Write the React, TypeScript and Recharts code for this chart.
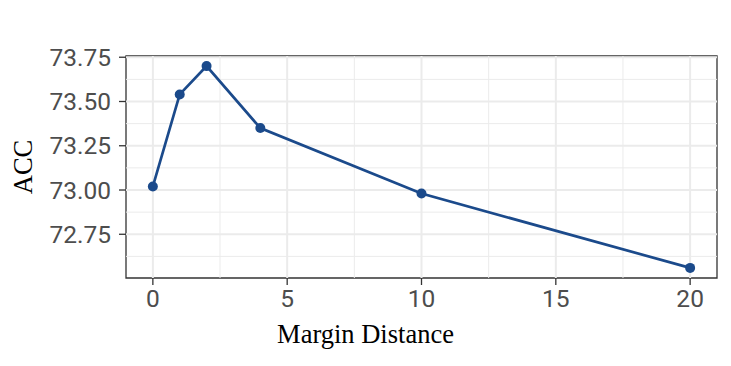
import { Label, Line, LineChart, ReferenceArea, ReferenceLine, XAxis, YAxis } from 'recharts';

const margins = [0, 1, 2, 4, 10, 20];
const accValues = [73.02, 73.54, 73.7, 73.35, 72.98, 72.56];

const xTicks = [0, 5, 10, 15, 20];
const xMinor = [2.5, 7.5, 12.5, 17.5];
const yTicks = [72.75, 73.0, 73.25, 73.5, 73.75];
const yMinor = [72.625, 72.875, 73.125, 73.375, 73.625];

const xDomain: [number, number] = [-1, 21];
const yDomain: [number, number] = [72.503, 73.757];

const data = margins.map((m, i) => ({ margin: m, acc: accValues[i] }));

const LINE_COLOR = '#1b4a8b';
const GRID = '#ebebeb';
const tickFont = { fontFamily: 'Roboto', fontSize: 24.5, fill: '#4d4d4d' };
const titleFont = { fontFamily: 'Liberation Serif', fontSize: 26.5, fill: '#000' };

export default function App() {
  return (
    <div style={{ position: 'absolute', left: 0, top: 0, width: 731, height: 366, background: '#fff' }}>
      <LineChart width={731} height={366} data={data} margin={{ top: 56, right: 14, bottom: 0, left: 0 }}>
        {xMinor.map((v) => (
          <ReferenceLine key={`xm${v}`} x={v} stroke={GRID} strokeWidth={1} />
        ))}
        {yMinor.map((v) => (
          <ReferenceLine key={`ym${v}`} y={v} stroke={GRID} strokeWidth={1} />
        ))}
        {xTicks.map((v) => (
          <ReferenceLine key={`x${v}`} x={v} stroke={GRID} strokeWidth={2} />
        ))}
        {yTicks.map((v) => (
          <ReferenceLine key={`y${v}`} y={v} stroke={GRID} strokeWidth={2} />
        ))}
        <ReferenceArea
          x1={xDomain[0]}
          x2={xDomain[1]}
          y1={yDomain[0]}
          y2={yDomain[1]}
          fill="none"
          fillOpacity={0}
          stroke="#333333"
          strokeWidth={1.3}
        />
        <XAxis
          dataKey="margin"
          type="number"
          domain={xDomain}
          ticks={xTicks}
          allowDataOverflow
          height={88}
          axisLine={false}
          tickLine={{ stroke: '#333333', strokeWidth: 1.3 }}
          tickSize={7}
          tickMargin={5}
          tick={tickFont}
        >
          <Label value="Margin Distance" position="insideBottom" offset={23} dx={-56} style={titleFont} />
        </XAxis>
        <YAxis
          type="number"
          domain={yDomain}
          ticks={yTicks}
          allowDataOverflow
          width={126}
          axisLine={false}
          tickLine={{ stroke: '#333333', strokeWidth: 1.3 }}
          tickSize={7}
          tickMargin={8}
          tick={tickFont}
          tickFormatter={(v: number) => v.toFixed(2)}
        >
          <Label
            content={({ viewBox }: any) => {
              const cy = viewBox.y + viewBox.height / 2;
              return (
                <text x={32} y={cy} transform={`rotate(-90, 32, ${cy})`} textAnchor="middle" style={titleFont}>
                  ACC
                </text>
              );
            }}
          />
        </YAxis>
        <Line
          dataKey="acc"
          stroke={LINE_COLOR}
          strokeWidth={2.7}
          dot={{ r: 5, fill: LINE_COLOR, stroke: LINE_COLOR, strokeWidth: 0 }}
          isAnimationActive={false}
        />
      </LineChart>
    </div>
  );
}
